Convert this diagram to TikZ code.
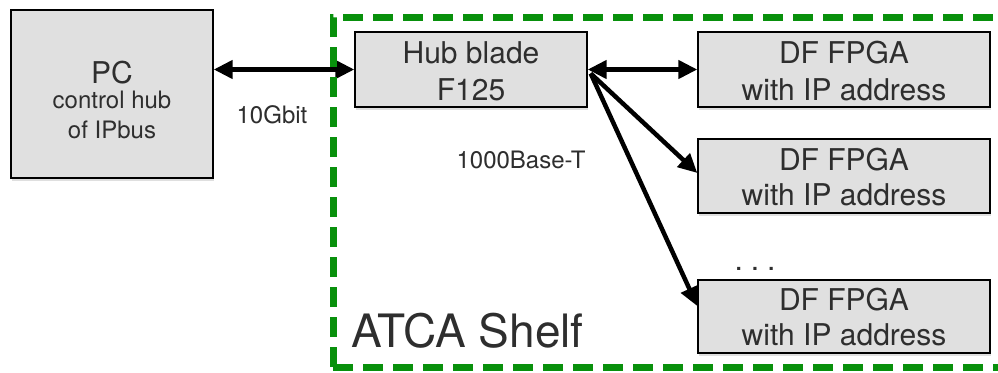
\documentclass[tikz,border=0pt]{standalone}
\usepackage{fontspec}
\setmainfont{TeX Gyre Heros}
\usetikzlibrary{arrows.meta,shadows,calc}
\definecolor{boxgray}{HTML}{E0E0E0}
\definecolor{shelfgreen}{HTML}{08900C}
\tikzset{
  box/.style={draw=black, line width=1.4pt, fill=boxgray, inner sep=0pt,
    drop shadow={opacity=0.25, shadow xshift=1pt, shadow yshift=-3pt}},
  arr/.style={line width=4.5pt, draw=black, {Triangle[length=19pt,width=18pt]}-{Triangle[length=19pt,width=18pt]}},
  sarr/.style={line width=4.5pt, draw=black, -{Triangle[length=19pt,width=18pt]}},
  txt/.style={anchor=base, inner sep=0pt, text=black!82},
  big/.style={font=\fontsize{30}{36}\selectfont},
  mid/.style={font=\fontsize{24}{30}\selectfont},
  shelf/.style={draw=shelfgreen, line width=7pt, dash pattern=on 20pt off 10pt}
}
\begin{document}
\begin{tikzpicture}[x=1pt,y=-1pt]
\useasboundingbox (0,0) rectangle (998,372);
% boxes
\node[box, minimum width=202pt, minimum height=168pt] (pc) at (112,94) {};
\node[box, minimum width=232pt, minimum height=75pt] (hub) at (471,69.5) {};
\node[box, minimum width=292pt, minimum height=75pt] (df1) at (844,69.5) {};
\node[box, minimum width=292pt, minimum height=74pt] (df2) at (844,176) {};
\node[box, minimum width=292pt, minimum height=73pt] (df3) at (844,316.5) {};
% box texts
\node[txt, font=\fontsize{30}{36}\selectfont] (pct1) at (112,83) {PC};
\node[txt, mid] (pct2) at (112,108) {control hub};
\node[txt, mid] (pct3) at (112,138) {of IPbus};
\node[txt, big] (hubt1) at (471,63) {Hub blade};
\node[txt, big] (hubt2) at (471,100) {F125};
\node[txt, big] (df1t1) at (844,63) {DF FPGA};
\node[txt, big] (df1t2) at (844,100) {with IP address};
\node[txt, big] (df2t1) at (844,170) {DF FPGA};
\node[txt, big] (df2t2) at (844,205) {with IP address};
\node[txt, big] (df3t1) at (844,310) {DF FPGA};
\node[txt, big] (df3t2) at (844,345) {with IP address};
% labels
\node[txt, mid] (gbit) at (272,123) {10Gbit};
\node[txt, mid] (base) at (521,168) {1000Base-T};
\node[txt, big] (dots) at (755,270) {.\hspace{8pt}.\hspace{8pt}.};
% connectors
\coordinate (hubout) at ($(hub.east)+(3,4)$);
\coordinate (df3in) at ($(df3.north west)!0.36!(df3.south west)$);
\coordinate (df2in) at ($(df2.north west)!0.46!(df2.south west)$);
\draw[arr] (pc.east |- hub.west) -- (hub.west);
\draw[arr] (hub.east) -- (df1.west);
\draw[sarr] (hubout) -- (df2in);
\draw[sarr] (hubout) -- (df3in);
% shelf
\coordinate (shA) at (333,17);
\coordinate (shB) at (1010,367);
\draw[shelf] (shB -| shA) -- (shA) -- (shA -| shB);
\draw[shelf] (shB -| shA) -- (shB);
\node[txt, font=\fontsize{46}{52}\selectfont, anchor=base west] (shelf) at (351,347) {ATCA Shelf};
\end{tikzpicture}
\end{document}
